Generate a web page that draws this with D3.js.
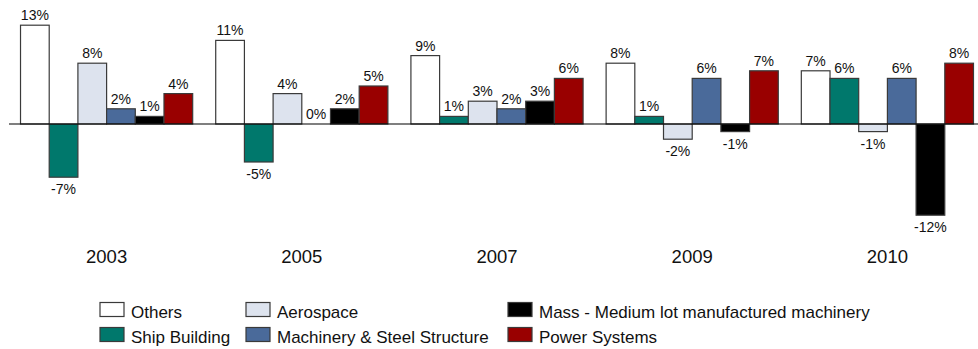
<!DOCTYPE html>
<html>
<head>
<meta charset="utf-8">
<script src="https://cdn.jsdelivr.net/npm/d3@7"></script>
<style>
  html, body { margin: 0; padding: 0; background: #fff; }
  svg { display: block; font-family: "Liberation Sans", Arial, sans-serif; }
</style>
</head>
<body>
<svg id="chart" width="978" height="349"></svg>
<script>
// Year-on-year change by business segment (%)
const years = ["2003", "2005", "2007", "2009", "2010"];
const segments = [
  "Others",
  "Ship Building",
  "Aerospace",
  "Machinery & Steel Structure",
  "Mass - Medium lot manufactured machinery",
  "Power Systems"
];
const others        = [13, 11, 9, 8, 7];
const shipBuilding  = [-7, -5, 1, 1, 6];
const aerospace     = [8, 4, 3, -2, -1];
const machinery     = [2, 0, 2, 6, 6];
const massMedium    = [1, 2, 3, -1, -12];
const powerSystems  = [4, 5, 6, 7, 8];

const seriesValues = [others, shipBuilding, aerospace, machinery, massMedium, powerSystems];
const colors = ["#ffffff", "#00786c", "#dde3ee", "#4a6a9a", "#000000", "#990000"];

const rows = years.map((year, i) => ({
  year,
  values: segments.map((s, j) => ({ segment: s, value: seriesValues[j][i], idx: j }))
}));

const svg = d3.select("#chart");

const x0 = d3.scaleBand()
  .domain(years)
  .range([9, 985])
  .paddingInner(0.118)
  .paddingOuter(0.059);

const x1 = d3.scaleBand()
  .domain(segments)
  .range([0, x0.bandwidth()])
  .padding(0);

const pxPerUnit = 7.6;
const zeroY = 124;
const y = d3.scaleLinear()
  .domain([-12, 13])
  .range([zeroY + 12 * pxPerUnit, zeroY - 13 * pxPerUnit]);

const fmt = d => d + "%";

const groups = svg.append("g")
  .selectAll("g")
  .data(rows)
  .join("g")
  .attr("transform", d => `translate(${x0(d.year)},0)`);

groups.selectAll("rect")
  .data(d => d.values)
  .join("rect")
  .attr("x", d => x1(d.segment))
  .attr("width", x1.bandwidth())
  .attr("y", d => y(Math.max(0, d.value)))
  .attr("height", d => Math.abs(y(d.value) - y(0)))
  .attr("fill", d => colors[d.idx])
  .attr("stroke", "#3a3a3a")
  .attr("stroke-width", 1.2);

groups.selectAll("text.val")
  .data(d => d.values)
  .join("text")
  .attr("class", "val")
  .attr("x", d => x1(d.segment) + x1.bandwidth() / 2)
  .attr("y", d => d.value >= 0 ? y(d.value) - 5 : y(d.value) + 17)
  .attr("text-anchor", "middle")
  .attr("font-size", 14)
  .attr("fill", "#111")
  .text(d => fmt(d.value));

// zero baseline
svg.append("line")
  .attr("x1", 9).attr("x2", 978)
  .attr("y1", y(0)).attr("y2", y(0))
  .attr("stroke", "#000")
  .attr("stroke-width", 1.2);

// year labels
svg.append("g")
  .selectAll("text")
  .data(years)
  .join("text")
  .attr("x", d => x0(d) + x0.bandwidth() / 2)
  .attr("y", 263)
  .attr("text-anchor", "middle")
  .attr("font-size", 18.5)
  .attr("fill", "#111")
  .text(d => d);

// legend: two rows, filled column by column
const legendCols = [100, 246, 508];
const legendRowY = [302.5, 327.5];
const legend = svg.append("g")
  .selectAll("g")
  .data(segments)
  .join("g")
  .attr("transform", (d, i) => `translate(${legendCols[Math.floor(i / 2)]},${legendRowY[i % 2]})`);

legend.append("rect")
  .attr("width", 24)
  .attr("height", 14)
  .attr("fill", (d, i) => colors[i])
  .attr("stroke", "#3a3a3a")
  .attr("stroke-width", 1.2);

legend.append("text")
  .attr("x", 31)
  .attr("y", 15.5)
  .attr("font-size", 17)
  .attr("fill", "#111")
  .text(d => d);
</script>
</body>
</html>
